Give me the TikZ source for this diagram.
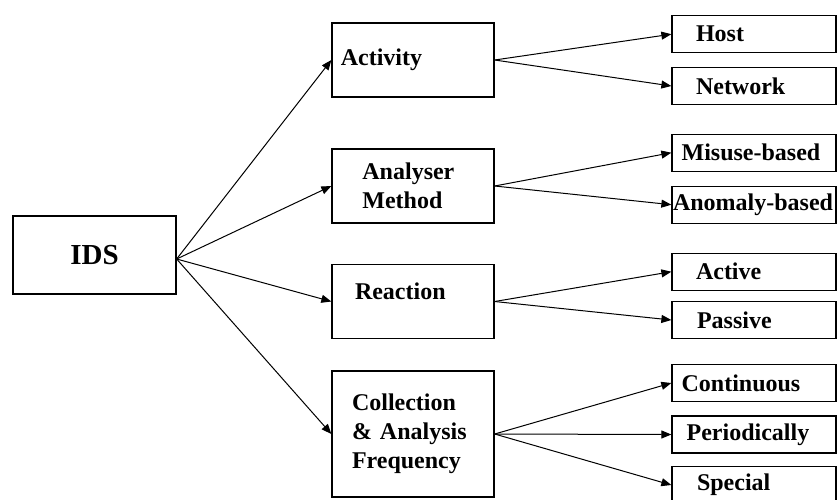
\documentclass[tikz,border=0pt]{standalone}
\usepackage{fontspec}
\setmainfont{Liberation Serif}
\usepackage{tikz}
\usetikzlibrary{arrows.meta,positioning}

\begin{document}
\begin{tikzpicture}[x=0.5pt,y=-0.5pt,
    every node/.style={font=\bfseries\fontsize{12}{14.4}\selectfont},
    boite/.style={draw,line width=0.65pt,inner ysep=0pt,align=left},
    cat/.style={boite,minimum width=81pt,minimum height=37pt},
    feuille/.style={boite,minimum width=82pt,minimum height=18.5pt},
    ret/.style 2 args={inner xsep=#1,text width=#2},
    fl/.style={-{Triangle[length=5pt,width=4pt]},line width=0.5pt}]
      \useasboundingbox (0,0) rectangle (838,499);
      \clip (0,0) rectangle (838,499);
      % racine
      \node[boite,align=center,minimum width=81.5pt,minimum height=39pt,
            font=\bfseries\fontsize{14.5}{17}\selectfont] (ids) at (94.5,255) {IDS};
      % categories
      \node[cat,ret={4.4pt}{72.2pt}] (act) at (413,60) {Activity};
      \node[cat,ret={15.2pt}{50.6pt}] (ana) at (413,186) {Analyser\\Method};
      \node[cat,ret={11.5pt}{58pt},text height=0pt,text depth=2pt] (rea) at (413,301.5) {Reaction};
      \node[cat,ret={10pt}{61pt},minimum height=63pt] (col) at (413,434) {Collection\\\& Analysis\\Frequency};
      % feuilles
      \node[feuille,ret={12pt}{58pt}] (host) at (754,34.2) {Host};
      \node[feuille,ret={12pt}{58pt}] (net) at (754,86) {Network};
      \node[feuille,ret={4.8pt}{72.4pt}] (mis) at (754,152.7) {Misuse-based};
      \node[feuille,ret={0.5pt}{81pt}] (ano) at (754,204.7) {\mbox{Anomaly-based}};
      \node[feuille,ret={12pt}{58pt}] (actv) at (754,271.7) {Active};
      \node[feuille,ret={12.5pt}{57pt}] (pas) at (754,320) {Passive};
      \node[feuille,ret={4.8pt}{72.4pt}] (cont) at (754,383) {Continuous};
      \node[feuille,ret={7.3pt}{67.4pt}] (per) at (754,434.5) {Periodically};
      \node[feuille,ret={12.5pt}{57pt}] (spe) at (754,485) {Special};
      % fleches
      \foreach \c in {act,ana,rea,col}{\draw[fl]([yshift=-2pt]ids.east)--(\c.west);}
      \foreach \a/\b in {act/host,act/net,ana/mis,ana/ano,rea/actv,rea/pas,col/cont,col/per,col/spe}{\draw[fl](\a.east)--(\b.west);}
    \end{tikzpicture}
\end{document}
